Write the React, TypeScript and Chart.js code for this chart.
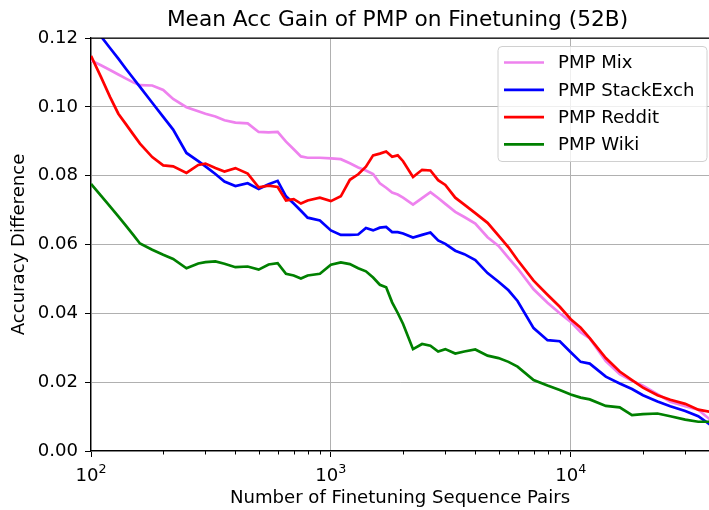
import React, { useEffect, useRef } from 'react';
import { Chart, registerables } from 'chart.js';

Chart.register(...registerables);

const chartTitle = 'Mean Acc Gain of PMP on Finetuning (52B)';
const xAxisTitle = 'Number of Finetuning Sequence Pairs';
const yAxisTitle = 'Accuracy Difference';

const xValues = [
  100, 110, 120, 130, 140, 150, 160, 180, 200, 220,
  250, 280, 300, 330, 360, 400, 450, 500, 550, 600,
  650, 700, 750, 800, 900, 1000, 1100, 1200, 1300, 1400,
  1500, 1600, 1700, 1800, 1900, 2000, 2200, 2400, 2600, 2800,
  3000, 3300, 3600, 4000, 4500, 5000, 5500, 6000, 7000, 8000,
  9000, 10000, 11000, 12000, 14000, 16000, 18000, 20000, 23000, 26000,
  30000, 34000, 38000,
];

const mixValues = [
  0.1135, 0.1121, 0.1107, 0.1094, 0.1082, 0.1071, 0.1063, 0.1062, 0.1049, 0.1023,
  0.0999, 0.0987, 0.0980, 0.0972, 0.0961, 0.0954, 0.0952, 0.0927, 0.0926, 0.0927,
  0.0899, 0.0877, 0.0856, 0.0852, 0.0852, 0.0850, 0.0848, 0.0836, 0.0824, 0.0815,
  0.0805, 0.0778, 0.0765, 0.0751, 0.0745, 0.0736, 0.0716, 0.0735, 0.0752, 0.0735,
  0.0718, 0.0695, 0.0680, 0.0661, 0.0621, 0.0596, 0.0561, 0.0531, 0.0470, 0.0431,
  0.0400, 0.0375, 0.0345, 0.0327, 0.0261, 0.0223, 0.0204, 0.0190, 0.0165, 0.0143,
  0.0130, 0.0120, 0.0092,
];

const stackExchValues = [
  0.1243, 0.1205, 0.1171, 0.1140, 0.1110, 0.1083, 0.1058, 0.1012, 0.0971, 0.0934,
  0.0866, 0.0842, 0.0827, 0.0805, 0.0783, 0.0770, 0.0778, 0.0761, 0.0775, 0.0785,
  0.0740, 0.0719, 0.0698, 0.0678, 0.0670, 0.0641, 0.0628, 0.0628, 0.0629, 0.0648,
  0.0641, 0.0649, 0.0651, 0.0636, 0.0636, 0.0632, 0.0620, 0.0628, 0.0635, 0.0612,
  0.0602, 0.0582, 0.0572, 0.0555, 0.0517, 0.0492, 0.0467, 0.0436, 0.0357, 0.0322,
  0.0319, 0.0287, 0.0259, 0.0254, 0.0216, 0.0196, 0.0180, 0.0162, 0.0144, 0.0130,
  0.0116, 0.0101, 0.0077,
];

const redditValues = [
  0.1148, 0.1087, 0.1029, 0.0980, 0.0949, 0.0920, 0.0893, 0.0854, 0.0830, 0.0827,
  0.0808, 0.0831, 0.0835, 0.0822, 0.0812, 0.0822, 0.0806, 0.0766, 0.0771, 0.0767,
  0.0728, 0.0732, 0.0719, 0.0728, 0.0736, 0.0726, 0.0740, 0.0788, 0.0804, 0.0826,
  0.0859, 0.0864, 0.0870, 0.0855, 0.0859, 0.0842, 0.0796, 0.0817, 0.0815, 0.0787,
  0.0773, 0.0736, 0.0716, 0.0691, 0.0663, 0.0626, 0.0592, 0.0555, 0.0495, 0.0454,
  0.0419, 0.0383, 0.0358, 0.0328, 0.0270, 0.0231, 0.0206, 0.0184, 0.0162, 0.0149,
  0.0137, 0.0120, 0.0114,
];

const wikiValues = [
  0.0776, 0.0742, 0.0711, 0.0682, 0.0654, 0.0628, 0.0603, 0.0585, 0.0570, 0.0558,
  0.0531, 0.0545, 0.0549, 0.0551, 0.0544, 0.0534, 0.0536, 0.0527, 0.0542, 0.0546,
  0.0515, 0.0510, 0.0501, 0.0510, 0.0515, 0.0541, 0.0548, 0.0543, 0.0531, 0.0522,
  0.0504, 0.0483, 0.0476, 0.0432, 0.0401, 0.0369, 0.0296, 0.0311, 0.0306, 0.0289,
  0.0296, 0.0283, 0.0289, 0.0295, 0.0277, 0.0270, 0.0259, 0.0245, 0.0206, 0.0190,
  0.0177, 0.0164, 0.0155, 0.0150, 0.0131, 0.0127, 0.0104, 0.0107, 0.0109, 0.0101,
  0.0091, 0.0085, 0.0085,
];

const seriesNames = ['PMP Mix', 'PMP StackExch', 'PMP Reddit', 'PMP Wiki'];
const seriesColors = ['#EE82EE', '#0000FF', '#FF0000', '#008000'];
const seriesValues = [mixValues, stackExchValues, redditValues, wikiValues];

const yTickValues = [0, 0.02, 0.04, 0.06, 0.08, 0.1, 0.12];
const xMajorTicks = [100, 1000, 10000];
const xMinorTicks = [
  200, 300, 400, 500, 600, 700, 800, 900,
  2000, 3000, 4000, 5000, 6000, 7000, 8000, 9000,
  20000, 30000,
];
const xMin = 100;
const xMax = 37700;

const FONT = '"DejaVu Sans", "Liberation Sans", sans-serif';

const overlayPlugin = {
  id: 'overlay',
  afterDraw(chart: any) {
    const { ctx, chartArea, scales } = chart;
    const xs = scales.x;
    ctx.save();
    // top spine
    ctx.strokeStyle = '#000';
    ctx.lineWidth = 1.25;
    ctx.beginPath();
    ctx.moveTo(chartArea.left, chartArea.top);
    ctx.lineTo(chartArea.right, chartArea.top);
    ctx.stroke();
    // minor ticks
    ctx.lineWidth = 1;
    for (const v of xMinorTicks) {
      const p = Math.round(xs.getPixelForValue(v)) + 0.5;
      ctx.beginPath();
      ctx.moveTo(p, chartArea.bottom);
      ctx.lineTo(p, chartArea.bottom + 3.5);
      ctx.stroke();
    }
    // x tick labels "10^n"
    ctx.fillStyle = '#000';
    ctx.textBaseline = 'alphabetic';
    ctx.textAlign = 'left';
    for (const v of xMajorTicks) {
      const p = xs.getPixelForValue(v);
      const exp = String(Math.round(Math.log10(v)));
      ctx.font = `18.1px ${FONT}`;
      const wBase = ctx.measureText('10').width;
      ctx.font = `12.7px ${FONT}`;
      const wExp = ctx.measureText(exp).width;
      const start = p - (wBase + wExp) / 2;
      ctx.font = `18.1px ${FONT}`;
      ctx.fillText('10', start, chartArea.bottom + 30);
      ctx.font = `12.7px ${FONT}`;
      ctx.fillText(exp, start + wBase, chartArea.bottom + 22);
    }
    // title
    ctx.font = `21.7px ${FONT}`;
    ctx.textAlign = 'center';
    ctx.fillText(chartTitle, 397.5, 26);
    // legend
    const lx = 498, ly = 46.5, lw = 209, lh = 115;
    ctx.beginPath();
    if ((ctx as any).roundRect) {
      (ctx as any).roundRect(lx, ly, lw, lh, 4);
    } else {
      ctx.rect(lx, ly, lw, lh);
    }
    ctx.fillStyle = 'rgba(255,255,255,0.8)';
    ctx.fill();
    ctx.strokeStyle = '#d0d0d0';
    ctx.lineWidth = 1;
    ctx.stroke();
    ctx.font = `18.1px ${FONT}`;
    ctx.textAlign = 'left';
    ctx.textBaseline = 'middle';
    seriesNames.forEach((name, i) => {
      const cy = 62.5 + i * 27.3;
      ctx.strokeStyle = seriesColors[i];
      ctx.lineWidth = 2.7;
      ctx.beginPath();
      ctx.moveTo(504, cy);
      ctx.lineTo(544, cy);
      ctx.stroke();
      ctx.fillStyle = '#000';
      ctx.fillText(name, 558, cy + 1);
    });
    ctx.restore();
  },
};

export default function App() {
  const canvasRef = useRef<HTMLCanvasElement | null>(null);

  useEffect(() => {
    const canvas = canvasRef.current;
    if (!canvas) return;
    Chart.defaults.font.family = FONT;
    Chart.defaults.color = '#000';

    const datasets = seriesNames.map((name, i) => ({
      label: name,
      data: xValues.map((x, j) => ({ x, y: seriesValues[i][j] })),
      borderColor: seriesColors[i],
      backgroundColor: seriesColors[i],
      borderWidth: 2.7,
      pointRadius: 0,
      tension: 0,
      fill: false,
      order: seriesNames.length - 1 - i,
    }));

    const chart = new Chart(canvas, {
      type: 'line',
      data: { datasets },
      options: {
        animation: false,
        responsive: false,
        devicePixelRatio: 1,
        layout: { padding: { top: 38, right: 0, bottom: 0, left: 0 } },
        plugins: {
          legend: { display: false },
          title: { display: false },
          tooltip: { enabled: false },
        },
        scales: {
          x: {
            type: 'logarithmic',
            min: xMin,
            max: xMax,
            afterBuildTicks: (scale: any) => {
              scale.ticks = xMajorTicks.map((v) => ({ value: v }));
            },
            afterFit: (scale: any) => {
              scale.height = 59;
              scale.paddingLeft = 0;
              scale.paddingRight = 0;
            },
            ticks: {
              callback: () => '',
              autoSkip: false,
              maxRotation: 0,
            },
            grid: {
              color: '#b0b0b0',
              lineWidth: 1,
              tickColor: '#000',
              tickLength: 6,
              drawTicks: true,
            },
            border: { display: true, color: '#000', width: 1.25 },
            title: {
              display: true,
              text: xAxisTitle,
              font: { size: 18.1, family: FONT },
              color: '#000',
              padding: { top: 0, bottom: 1 },
            },
          },
          y: {
            type: 'linear',
            min: 0,
            max: 0.12,
            afterBuildTicks: (scale: any) => {
              scale.ticks = yTickValues.map((v) => ({ value: v }));
            },
            afterFit: (scale: any) => {
              scale.width = 91;
            },
            ticks: {
              callback: (v: any) => Number(v).toFixed(2),
              font: { size: 18.1, family: FONT },
              color: '#000',
              padding: 7,
            },
            grid: {
              color: '#b0b0b0',
              lineWidth: 1,
              tickColor: '#000',
              tickLength: 6,
              drawTicks: true,
            },
            border: { display: true, color: '#000', width: 1.25 },
            title: {
              display: true,
              text: yAxisTitle,
              font: { size: 18.1, family: FONT },
              color: '#000',
              padding: { top: 8, bottom: 0 },
            },
          },
        },
      },
      plugins: [overlayPlugin],
    } as any);

    return () => chart.destroy();
  }, []);

  return (
    <div style={{ position: 'absolute', left: 0, top: 0, width: 709, height: 510, background: '#fff' }}>
      <canvas ref={canvasRef} width={709} height={510} style={{ display: 'block', width: 709, height: 510 }} />
    </div>
  );
}
